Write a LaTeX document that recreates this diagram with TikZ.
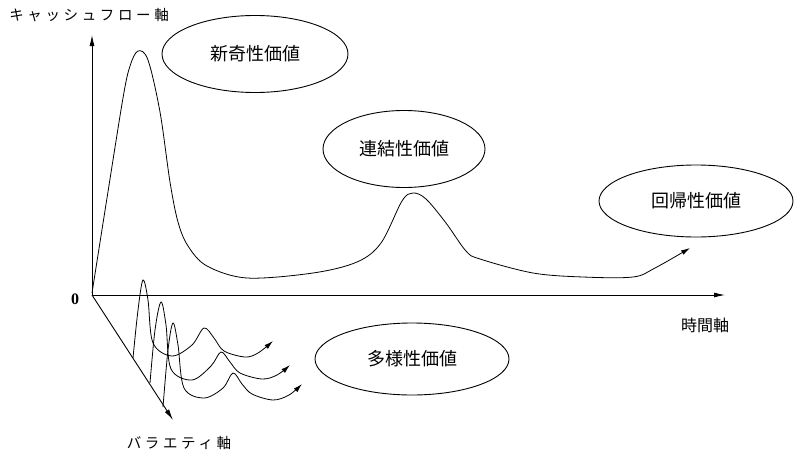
\documentclass[tikz,border=0pt]{standalone}
\usepackage{fontspec}
\setmainfont{Noto Sans CJK JP}
\newfontfamily\jpspaced[LetterSpace=25]{Noto Sans CJK JP}
\newfontfamily\serifnum{Liberation Serif}
\usetikzlibrary{arrows.meta,shapes.geometric}
\begin{document}
\begin{tikzpicture}[x=1pt,y=-1pt,
  axis/.style={line width=0.9pt,-{Latex[length=11pt,width=5pt]}},
  curve/.style={line width=0.8pt,smooth,tension=0.55},
  arr/.style={-{Latex[length=9pt,width=5pt]}},
  ell/.style={draw,ellipse,line width=0.9pt,inner sep=0pt,font=\fontsize{18}{20}\selectfont},
  lab/.style={inner sep=0pt,font=\fontsize{14.5}{16}\selectfont\jpspaced}]
\useasboundingbox (0,0) rectangle (794,455);
% axes
\coordinate (O) at (92,295);
\coordinate (ytip) at (92,35);
\coordinate (xtip) at (725,295);
\coordinate (vtip) at (173,420);
\draw[axis] (O) -- (ytip);
\draw[axis] (O) -- (xtip);
\draw[axis] (O) -- (vtip);
\node[inner sep=0pt,font=\fontsize{16}{18}\selectfont\serifnum\bfseries] (zero) at (75,299) {0};
\node[lab] (ylab) at (89,15) {キャッシュフロー軸};
\node[lab,font=\fontsize{16}{18}\selectfont] (xlab) at (705,325) {時間軸};
\node[lab] (vlab) at (179,443) {バラエティ軸};
% value ellipses
\node[ell,minimum width=186pt,minimum height=77pt] (e1) at (255,54) {新奇性価値};
\node[ell,minimum width=162pt,minimum height=77pt] (e2) at (404,149) {連結性価値};
\node[ell,minimum width=194pt,minimum height=72pt] (e3) at (696,201) {回帰性価値};
\node[ell,minimum width=194pt,minimum height=72pt] (e4) at (412,359) {多様性価値};
% main cash flow curve
\draw[curve,arr] plot coordinates {(92,293) (107,198) (123,98) (130,66) (138,51) (148,60) (160,112) (170,182) (178,222) (188,246) (207,266) (247,278) (313,273) (357,262) (381,243) (402,201) (413,193) (426,199) (446,223) (466,251) (480,259) (533,273) (583,277) (633,277) (655,268) (690,248)};
% variety curves
\draw[curve,arr] plot coordinates {(133,358) (138,310) (143,280) (148,300) (153,343) (172,356) (192,345) (204,328) (214,338) (224,351) (245,357) (258,353) (273,341)};
\draw[curve,arr] plot coordinates {(150,383) (155,330) (161,302) (166,325) (171,369) (192,380) (211,366) (221,352) (230,362) (240,373) (262,379) (277,375) (290,365)};
\draw[curve,arr] plot coordinates {(163,407) (168,350) (173,323) (178,345) (184,388) (204,398) (223,388) (233,373) (242,384) (252,394) (273,400) (289,395) (302,384)};
\end{tikzpicture}
\end{document}
